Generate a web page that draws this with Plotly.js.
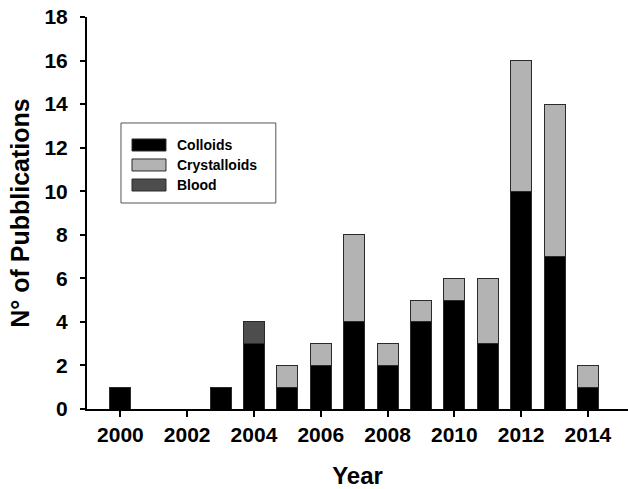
<!DOCTYPE html>
<html>
<head>
<meta charset="utf-8">
<script src="https://cdn.plot.ly/plotly-3.0.1.min.js"></script>
<style>html,body{margin:0;padding:0;background:#fff;}#chart{width:628px;height:489px;}</style>
</head>
<body>
<div id="chart"></div>
<script>
const years = [2000, 2001, 2002, 2003, 2004, 2005, 2006, 2007, 2008, 2009, 2010, 2011, 2012, 2013, 2014];
const colloids =     [1, 0, 0, 1, 3, 1, 2, 4, 2, 4, 5, 3, 10, 7, 1];
const crystalloids = [0, 0, 0, 0, 0, 1, 1, 4, 1, 1, 1, 3, 6, 7, 1];
const blood =        [0, 0, 0, 0, 1, 0, 0, 0, 0, 0, 0, 0, 0, 0, 0];
const seriesNames = ['Colloids', 'Crystalloids', 'Blood'];
const seriesColors = ['#000000', '#b3b3b3', '#4d4d4d'];
const xTicks = [2000, 2002, 2004, 2006, 2008, 2010, 2012, 2014];
const yTicks = [0, 2, 4, 6, 8, 10, 12, 14, 16, 18];

const FONT = 'Liberation Sans, Arial, sans-serif';
const seriesValues = [colloids, crystalloids, blood];

const traces = seriesValues.map((vals, i) => ({
  type: 'bar',
  name: seriesNames[i],
  x: years,
  y: vals.map(v => v === 0 ? null : v),
  width: 0.63,
  marker: {color: seriesColors[i], line: {color: '#2a2a2a', width: 1}},
  showlegend: false,
  hoverinfo: 'x+y+name'
}));

// custom legend (box, swatches, labels) in paper coordinates
const lx0 = 0.0628, lx1 = 0.349, ly0 = 0.5255, ly1 = 0.7296;
const itemY = [0.6735, 0.6225, 0.5714];
const shapes = [{type: 'rect', xref: 'paper', yref: 'paper', x0: lx0, x1: lx1, y0: ly0, y1: ly1,
  line: {color: '#555555', width: 1}, fillcolor: 'rgba(0,0,0,0)'}];
const annotations = [];
seriesNames.forEach((n, i) => {
  shapes.push({type: 'rect', xref: 'paper', yref: 'paper', x0: 0.0832, x1: 0.1460,
    y0: itemY[i] - 0.0153, y1: itemY[i] + 0.0153,
    fillcolor: seriesColors[i], line: {color: '#2a2a2a', width: 1}});
  annotations.push({xref: 'paper', yref: 'paper', x: 0.1627, y: itemY[i], xanchor: 'left', yanchor: 'middle',
    text: n, showarrow: false, font: {family: FONT, size: 14, color: '#000', weight: 'bold'}});
});

const layout = {
  width: 628, height: 489,
  margin: {l: 87, r: 0, t: 17, b: 80},
  paper_bgcolor: '#ffffff', plot_bgcolor: '#ffffff',
  barmode: 'stack',
  showlegend: false,
  font: {family: FONT, color: '#000'},
  xaxis: {
    range: [1999, 2015.2], tickvals: xTicks, ticktext: xTicks.map(String),
    ticks: 'outside', ticklen: 6, tickwidth: 2, tickcolor: '#000',
    showline: true, linecolor: '#000', linewidth: 2, showgrid: false, zeroline: false,
    tickfont: {family: FONT, size: 21, color: '#000', weight: 'bold'},
    title: {text: 'Year', font: {family: FONT, size: 24, color: '#000', weight: 'bold'}, standoff: 24},
    automargin: false, fixedrange: true
  },
  yaxis: {
    range: [0, 18], tickvals: yTicks, ticktext: yTicks.map(String),
    ticks: 'outside', ticklen: 5, tickwidth: 2, tickcolor: '#000',
    showline: true, linecolor: '#000', linewidth: 2, showgrid: false, zeroline: false,
    ticklabelstandoff: 8,
    tickfont: {family: FONT, size: 21, color: '#000', weight: 'bold'},
    title: {text: 'N° of Pubblications', font: {family: FONT, size: 25, color: '#000', weight: 'bold'}, standoff: 8},
    automargin: false, fixedrange: true
  },
  shapes: shapes,
  annotations: annotations
};

Plotly.newPlot('chart', traces, layout, {displayModeBar: false, staticPlot: true});
</script>
</body>
</html>
